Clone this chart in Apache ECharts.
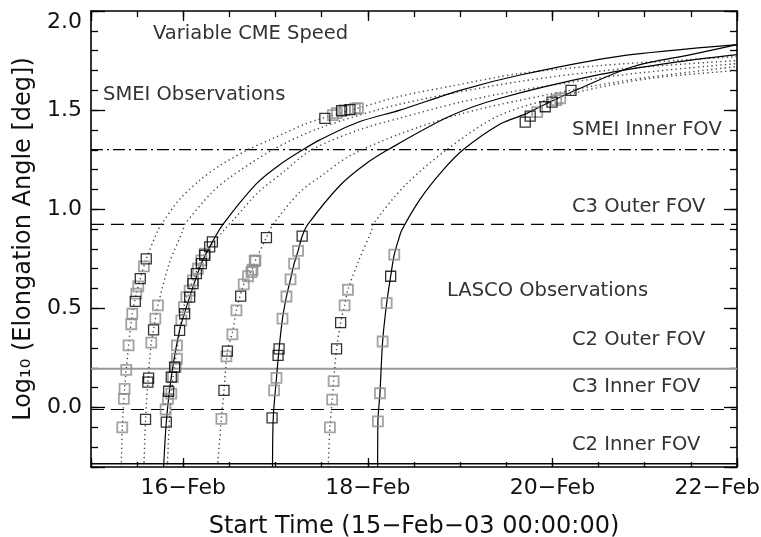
<!DOCTYPE html>
<html><head><meta charset="utf-8">
<script src="https://cdn.jsdelivr.net/npm/echarts@6/dist/echarts.min.js"></script>
<style>html,body{margin:0;padding:0;background:#fff}#c{width:761px;height:537px}</style>
</head><body><div id="c"></div>
<script>
// x = days since 15-Feb-03 00:00:00, y = log10(elongation angle [deg])
const curveA = [[0.328,-0.3],[0.339,-0.1],[0.364,0.094],[0.407,0.313],[0.447,0.473],[0.491,0.574],[0.534,0.65],[0.599,0.75],[0.725,0.894],[0.762,0.924],[0.96,1.05],[1.178,1.146],[1.395,1.22],[1.702,1.301],[1.937,1.35],[2.295,1.425],[2.444,1.45],[2.892,1.51],[3.348,1.57],[3.891,1.62],[4.65,1.685],[5.519,1.725],[6.387,1.752],[7.0,1.77]];
const curveB = [[0.573,-0.3],[0.591,-0.06],[0.616,0.128],[0.653,0.327],[0.678,0.392],[0.697,0.448],[0.725,0.515],[0.85,0.73],[0.996,0.894],[1.015,0.924],[1.3,1.08],[1.503,1.16],[1.973,1.301],[2.48,1.41],[3.348,1.53],[4.65,1.645],[5.8,1.71],[7.0,1.75]];
const curveC = [[0.787,-0.3],[0.816,-0.074],[0.87,0.153],[0.96,0.389],[1.069,0.557],[1.196,0.726],[1.315,0.835],[1.43,0.924],[1.793,1.129],[2.03,1.22],[2.299,1.301],[2.48,1.35],[2.9,1.44],[3.348,1.5],[4.0,1.6],[4.65,1.677],[5.7,1.77],[7.0,1.83]];
const curveD = [[0.827,-0.3],[0.852,-0.05],[0.888,0.153],[0.931,0.29],[0.979,0.44],[1.033,0.557],[1.105,0.641],[1.196,0.742],[1.232,0.776],[1.45,0.9],[1.55,0.95],[1.8,1.08],[2.09,1.19],[2.39,1.3],[2.9,1.4],[3.348,1.46],[4.0,1.54],[4.65,1.6],[5.8,1.68],[7.0,1.735]];
const curveE = [[1.37,-0.3],[1.413,-0.057],[1.441,0.086],[1.478,0.284],[1.532,0.38],[1.576,0.49],[1.655,0.621],[1.75,0.7],[1.782,0.742],[1.901,0.857],[1.973,0.924],[2.263,1.087],[2.48,1.163],[2.806,1.27],[3.348,1.38],[4.0,1.48],[4.65,1.55],[5.8,1.65],[7.0,1.72]];
const curveF = [[1.967,-0.3],[1.975,-0.05],[2.01,0.15],[2.038,0.296],[2.075,0.448],[2.118,0.56],[2.162,0.646],[2.201,0.726],[2.244,0.79],[2.288,0.864],[2.35,0.924],[2.697,1.12],[2.95,1.22],[3.221,1.301],[3.891,1.47],[4.434,1.56],[5.519,1.68],[6.3,1.74],[7.0,1.78]];
const curveG = [[2.57,-0.3],[2.589,-0.1],[2.613,0.04],[2.629,0.133],[2.661,0.296],[2.705,0.428],[2.748,0.515],[2.784,0.594],[2.9,0.74],[3.041,0.894],[3.055,0.924],[3.402,1.12],[3.855,1.301],[4.434,1.475],[5.269,1.59],[6.061,1.66],[7.0,1.7]];
const curveH = [[3.106,-0.3],[3.109,-0.07],[3.131,0.072],[3.16,0.333],[3.204,0.527],[3.247,0.662],[3.286,0.771],[3.33,0.843],[3.367,0.894],[3.565,1.05],[3.8,1.19],[4.035,1.301],[4.434,1.43],[4.705,1.48],[4.922,1.53],[5.201,1.59],[5.877,1.72],[6.5,1.78],[7.0,1.83]];
const solidCurves = [curveC, curveF, curveH];
const dottedCurves = [curveA, curveB, curveD, curveE, curveG];

const blackSquares = [[0.48,0.535],[0.534,0.65],[0.599,0.75],
 [0.591,-0.06],[0.616,0.128],[0.624,0.148],[0.678,0.392],
 [0.816,-0.074],[0.841,0.082],[0.87,0.153],[0.906,0.204],[0.96,0.389],[1.015,0.473],[1.069,0.557],[1.105,0.625],[1.142,0.675],[1.196,0.726],[1.232,0.768],[1.286,0.81],[1.315,0.835],
 [1.441,0.086],[1.478,0.284],[1.622,0.562],[1.901,0.857],
 [1.962,-0.052],[2.027,0.263],[2.038,0.296],[2.288,0.864],
 [2.661,0.296],[2.705,0.428],[3.247,0.662],
 [2.534,1.458],[2.715,1.497],[2.806,1.503],[4.705,1.44],[4.759,1.47],[4.922,1.517],[4.995,1.54],[5.201,1.6]];
const graySquares = [[0.339,-0.1],[0.356,0.044],[0.364,0.094],[0.382,0.19],[0.407,0.313],[0.436,0.42],[0.447,0.473],[0.491,0.574],[0.512,0.611],[0.573,0.712],
 [0.653,0.327],[0.697,0.448],[0.725,0.515],
 [0.809,-0.01],[0.834,0.044],[0.87,0.07],[0.888,0.153],[0.917,0.204],[0.931,0.246],[0.931,0.313],[0.979,0.44],[1.007,0.506],[1.033,0.557],[1.069,0.59],[1.105,0.641],[1.159,0.7],[1.196,0.742],[1.232,0.776],
 [1.413,-0.057],[1.467,0.258],[1.532,0.369],[1.576,0.49],[1.655,0.621],[1.702,0.662],[1.739,0.683],[1.75,0.695],[1.774,0.739],[1.782,0.742],
 [1.984,0.086],[2.01,0.15],[2.075,0.448],[2.118,0.56],[2.162,0.646],[2.201,0.726],[2.244,0.79],
 [2.589,-0.1],[2.613,0.04],[2.629,0.133],[2.748,0.515],[2.784,0.594],
 [3.109,-0.07],[3.131,0.072],[3.16,0.333],[3.204,0.527],[3.286,0.771],
 [2.621,1.475],[2.664,1.485],[2.751,1.5],[2.86,1.507],[2.892,1.51],[4.835,1.49],[5.041,1.55],[5.085,1.56]];

const fovNames = ['SMEI Inner FOV','C3 Outer FOV','C2 Outer FOV','C3 Inner FOV','C2 Inner FOV'];
const fovValues = [1.301, 0.924, 0.196, -0.01, -0.283];
const titleTexts = ['Variable CME Speed','SMEI Observations','LASCO Observations'];
const xDays = [0, 7];
const yRange = [-0.3, 2.0];
const xTitle = 'Start Time (15\u2212Feb\u221203 00:00:00)';
const yTitle = 'Log\u2081\u2080 (Elongation Angle [deg])';

const FONT = 'DejaVu Sans';
const fovStyles = [
  {color:'#000', width:1.2, type:[12,4,2,4]},
  {color:'#000', width:1.2, type:[13,7]},
  {color:'#999', width:2, type:'solid'},
  {color:'#000', width:1.2, type:[13,7]},
  {color:'#000', width:1.5, type:'solid'}
];
const fovLabelY = [130, 207, 340, 387, 445];
const dayLabel = v => (15 + Math.round(v)) + '\u2212Feb';

const series = [];
fovValues.forEach((v, i) => {
  series.push({type:'line', name:fovNames[i], data: xDays.map(x => [x, v]), symbol:'none', silent:true,
    lineStyle: fovStyles[i], z:1});
});
dottedCurves.forEach(c => series.push({type:'line', data:c, symbol:'none', smooth:0.3,
  lineStyle:{color:'#444', width:1.4, type:[1.3,3.2]}, z:2}));
solidCurves.forEach(c => series.push({type:'line', data:c, symbol:'none', smooth:0.3,
  lineStyle:{color:'#000', width:1.2}, z:3}));
series.push({type:'scatter', data:graySquares, symbol:'rect', symbolSize:10,
  itemStyle:{color:'rgba(255,255,255,0)', borderColor:'#8c8c8c', borderWidth:1.8}, z:4});
series.push({type:'scatter', data:blackSquares, symbol:'rect', symbolSize:10,
  itemStyle:{color:'rgba(255,255,255,0)', borderColor:'#000', borderWidth:1.3}, z:5});

const axLine = {show:true, onZero:false, lineStyle:{color:'#000', width:1.6}};
const noLine = {show:false, onZero:false};
const tickStyle = {color:'#000', width:1.3};
const isOddDay = v => Math.abs(v - Math.round(v)) < 1e-6 && Math.round(v) % 2 === 1 && v < 6.5;
const isHalf = v => Math.abs(v*2 - Math.round(v*2)) < 1e-6;

const xCommon = {type:'value', min:xDays[0], max:xDays[1], splitLine:{show:false}};
const yCommon = {type:'value', min:yRange[0], max:yRange[1], splitLine:{show:false}};

const option = {
  animation:false,
  backgroundColor:'#fff',
  grid:{left:91, right:24, top:11, bottom:70, containLabel:false, outerBoundsMode:'none'},
  xAxis:[
    Object.assign({}, xCommon, {position:'bottom', interval:0.5, axisLine:axLine,
      axisTick:{inside:true, length:5, lineStyle:tickStyle},
      axisLabel:{margin:10, fontFamily:FONT, fontSize:22, color:'#111', formatter:v => isOddDay(v) ? dayLabel(v) : ''},
      name:xTitle, nameLocation:'middle', nameGap:48, nameTextStyle:{fontFamily:FONT, fontSize:24, color:'#111'}}),
    Object.assign({}, xCommon, {position:'top', interval:0.5, axisLine:axLine,
      axisTick:{inside:true, length:6, lineStyle:tickStyle}, axisLabel:{show:false}}),
    Object.assign({}, xCommon, {min:xDays[0]-1, max:xDays[1]-1, splitNumber:3, position:'bottom', axisLine:noLine,
      axisTick:{inside:true, length:9, lineStyle:tickStyle}, axisLabel:{show:false}}),
    Object.assign({}, xCommon, {min:xDays[0]-1, max:xDays[1]-1, splitNumber:3, position:'top', axisLine:noLine,
      axisTick:{inside:true, length:10, lineStyle:tickStyle}, axisLabel:{show:false}})
  ],
  yAxis:[
    Object.assign({}, yCommon, {position:'left', interval:0.1, axisLine:axLine,
      axisTick:{inside:true, length:7, lineStyle:tickStyle},
      axisLabel:{margin:9, fontFamily:FONT, fontSize:22, color:'#111', verticalAlignMaxLabel:'top',
        formatter:v => isHalf(v) ? v.toFixed(1) : ''},
      name:yTitle, nameLocation:'middle', nameGap:52, nameRotate:90, nameTextStyle:{fontFamily:FONT, fontSize:24, color:'#111'}}),
    Object.assign({}, yCommon, {position:'left', splitNumber:5, axisLine:noLine,
      axisTick:{inside:true, length:14, lineStyle:tickStyle}, axisLabel:{show:false}}),
    Object.assign({}, yCommon, {position:'right', interval:0.1, axisLine:axLine,
      axisTick:{inside:true, length:7, lineStyle:tickStyle}, axisLabel:{show:false}}),
    Object.assign({}, yCommon, {position:'right', splitNumber:5, axisLine:noLine,
      axisTick:{inside:true, length:13, lineStyle:tickStyle}, axisLabel:{show:false}})
  ],
  graphic:[
    {type:'text', x:153, y:34, style:{text:titleTexts[0], fontFamily:FONT, fontSize:19.5, fill:'#333', align:'left', verticalAlign:'middle'}},
    {type:'text', x:103, y:95, style:{text:titleTexts[1], fontFamily:FONT, fontSize:19.5, fill:'#333', align:'left', verticalAlign:'middle'}},
    {type:'text', x:447, y:291, style:{text:titleTexts[2], fontFamily:FONT, fontSize:19.5, fill:'#333', align:'left', verticalAlign:'middle'}}
  ].concat(fovNames.map((n, i) => ({type:'text', x:572, y:fovLabelY[i],
      style:{text:n, fontFamily:FONT, fontSize:19.5, fill:'#333', align:'left', verticalAlign:'middle'}})))
   .concat([{type:'text', x:760, y:488, style:{text:dayLabel(xDays[1]), fontFamily:FONT, fontSize:22, fill:'#111', align:'right', verticalAlign:'middle'}}]),
  series: series
};
const chart = echarts.init(document.getElementById('c'));
chart.setOption(option);
</script>
</body></html>
